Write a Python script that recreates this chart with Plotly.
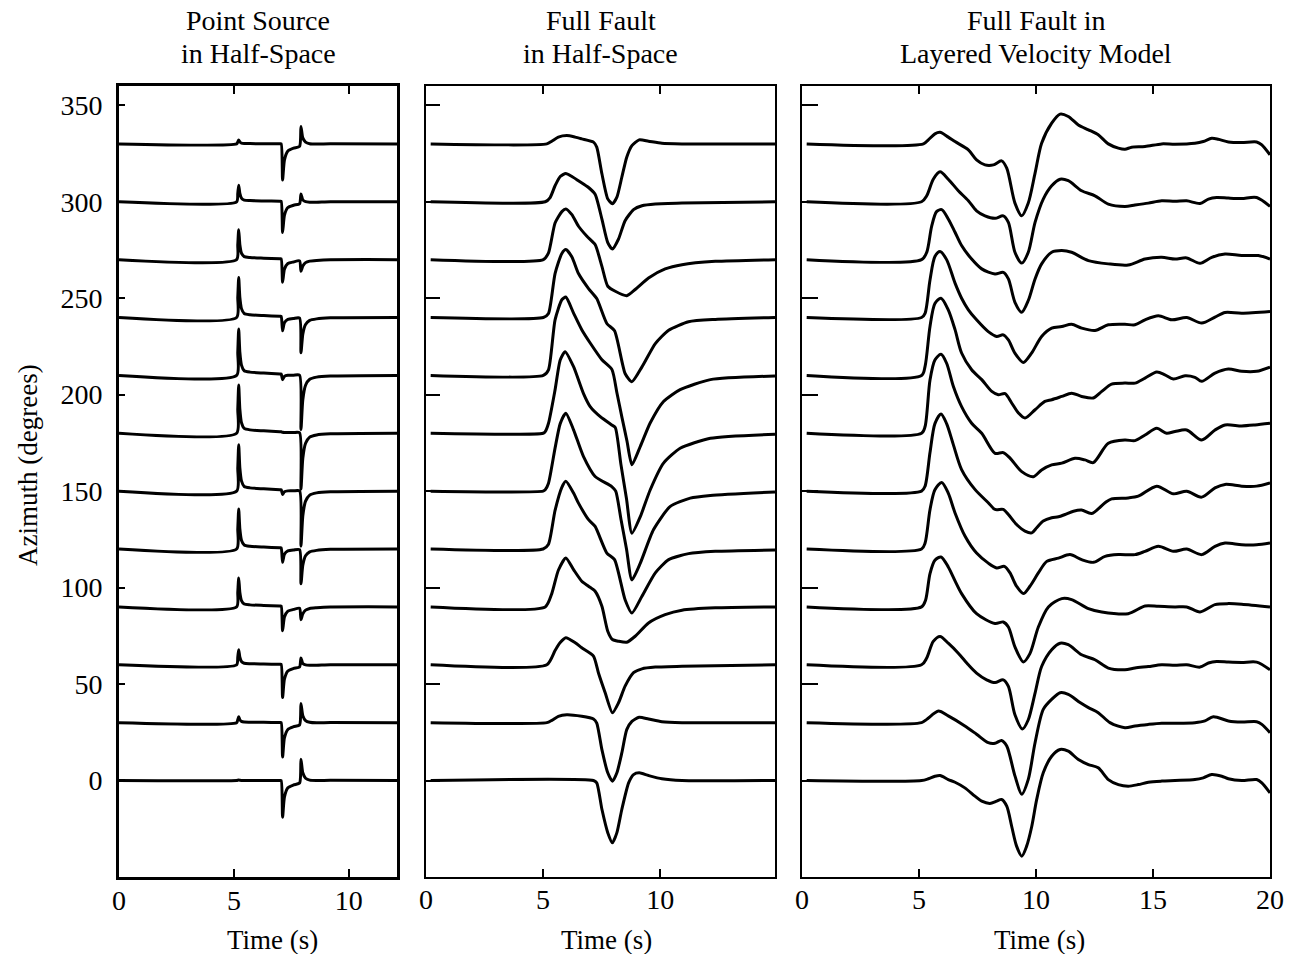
import plotly.graph_objects as go

# ---------------- data ----------------
azimuths = [0, 30, 60, 90, 120, 150, 180, 210, 240, 270, 300, 330]
ticks_az = [0, 50, 100, 150, 200, 250, 300, 350]
titles = [["Point Source", "in Half-Space"],
          ["Full Fault", "in Half-Space"],
          ["Full Fault in", "Layered Velocity Model"]]
x_ticks_1 = [0, 5, 10]
x_ticks_2 = [0, 5, 10]
x_ticks_3 = [0, 5, 10, 15, 20]

# Panel 1: point source in half-space (common time samples, amplitude in degrees of offset)
ps_time = [0, 5.12, 5.17, 5.21, 5.26, 5.33, 5.45, 5.7, 6.3, 7.0, 7.06, 7.12, 7.2, 7.35, 7.6, 7.86,
           7.92, 8.0, 8.12, 8.3, 8.6, 9.2, 12.1]
ps_000 = [0, 0, 0.15, 0.3, 0.15, 0.07, 0.03, 0.02, 0.02, 0.01, 0.01, -19, -8.6, -3.8, -2.3, -1.3,
          11, 4.0, 1.2, 0.2, 0, 0.1, 0]
ps_030 = [0, 0, 1.5, 3, 1.5, 0.66, 0.3, 0.21, 0.15, 0.09, 0.09, -17.8, -7.95, -3.5, -2.1, -1.2,
          9.9, 3.6, 1.1, 0.2, -0.1, 0.1, 0]
ps_060 = [0, 0, 3.9, 7.8, 3.9, 1.7, 0.8, 0.55, 0.4, 0.23, 0.23, -17, -7.5, -3.2, -1.9, -1.1,
          3.5, 0.7, -0.05, -0.26, -0.24, 0, 0]
ps_090 = [0, 0, 7.5, 15, 7.5, 3.3, 1.5, 1.05, 0.75, 0.45, 0.45, -12.4, -5.3, -2.2, -1.3, -0.7,
          -6.6, -3.6, -1.7, -0.8, -0.45, -0.07, 0]
ps_120 = [0, 0, 10.4, 20.7, 10.4, 4.6, 2.1, 1.45, 1.0, 0.6, 0.6, -6.9, -2.7, -1.0, -0.5, -0.3,
          -18, -8.45, -3.5, -1.5, -0.7, -0.18, 0]
ps_150 = [0, 0, 12, 24, 12, 5.3, 2.4, 1.7, 1.2, 0.7, 0.7, -1.7, -0.3, 0.14, 0.16, 0.12,
          -28.5, -12.9, -5.2, -2.05, -0.9, -0.3, 0]
ps_180 = [0, 0, 12.5, 25, 12.5, 5.5, 2.5, 1.75, 1.25, 0.75, 0.75, 0.5, 0.4, 0.45, 0.37, 0.25,
          -29, -13, -5.2, -2.0, -0.87, -0.3, 0]
ps_210 = [0, 0, 12, 24, 12, 5.3, 2.4, 1.7, 1.2, 0.7, 0.7, -2.2, -0.5, 0.04, 0.1, 0.1,
          -28, -12.7, -5.1, -2.0, -0.9, -0.3, 0]
ps_240 = [0, 0, 10.4, 20.7, 10.4, 4.6, 2.1, 1.45, 1.0, 0.6, 0.6, -6.9, -2.7, -1.0, -0.5, -0.3,
          -18.3, -8.6, -3.6, -1.5, -0.7, -0.18, 0]
ps_270 = [0, 0, 7.75, 15.5, 7.75, 3.4, 1.55, 1.1, 0.78, 0.47, 0.47, -11.7, -5.0, -2.0, -1.2, -0.66,
          -6, -3.3, -1.55, -0.77, -0.41, -0.06, 0]
ps_300 = [0, 0, 4.3, 8.6, 4.3, 1.9, 0.86, 0.6, 0.43, 0.26, 0.26, -15.9, -7.0, -3.0, -1.8, -1.0,
          4, 1.0, 0.1, -0.2, -0.2, 0.04, 0]
ps_330 = [0, 0, 1, 2, 1, 0.44, 0.2, 0.14, 0.1, 0.06, 0.06, -18.7, -8.4, -3.7, -2.2, -1.3,
          9, 3.1, 0.9, 0.07, -0.1, 0.09, 0]

# Panel 2: full fault in half-space, (time s, amplitude) pairs
ffhs_000 = [(0.2, 0), (7.15, 0), (7.29, -1.2), (7.51, -14.9), (7.76, -27), (7.96, -32.3), (8.15, -27),
            (8.36, -15), (8.65, -1.2), (8.86, 3.1), (9.10, 4.0), (9.50, 2.6), (10.07, 0.9), (10.93, 0),
            (14.9, 0)]
ffhs_030 = [(0.2, 0), (5.16, 0), (5.37, 1.2), (5.65, 3.3), (6.01, 4.1), (6.65, 3.3), (7.15, 1.9),
            (7.29, -0.2), (7.51, -14), (7.76, -26), (7.96, -30.4), (8.15, -26), (8.36, -15.7),
            (8.57, -3.6), (8.79, 0.7), (9.10, 2.8), (9.50, 1.9), (10.07, 0.5), (10.93, 0), (14.9, 0)]
ffhs_060 = [(0.2, 0), (5.16, 0), (5.51, 7.4), (5.73, 11.5), (5.97, 14.0), (6.37, 11.4), (6.65, 8.8),
            (7.15, 4.5), (7.36, -4.1), (7.65, -14.5), (7.96, -24.9), (8.22, -19.7), (8.50, -11.1),
            (8.86, -4.1), (9.22, -2.1), (9.79, -1.2), (10.93, -0.7), (14.9, 0)]
ffhs_090 = [(0.2, 0), (5.09, 0), (5.37, 6.9), (5.65, 19), (5.97, 25.4), (6.30, 19.3), (6.65, 13.3),
            (6.94, 10.7), (7.22, 8.1), (7.51, 0.3), (7.76, -12.6), (7.96, -16.9), (8.22, -17.8),
            (8.57, -18.3), (8.93, -15.2), (9.50, -8.3), (10.21, -4.0), (10.93, -1.7), (12.35, -0.5),
            (14.9, 0)]
ffhs_120 = [(0.2, 0), (5.0, 0), (5.23, 2.5), (5.51, 20), (5.80, 32), (5.97, 35.1), (6.30, 29),
            (6.51, 23.8), (6.94, 15.2), (7.22, 11.7), (7.72, -2.1), (8.05, -5.5), (8.50, -26.3),
            (8.79, -33.2), (9.22, -24.5), (9.79, -12.4), (10.36, -5.5), (11.21, -2.4), (12.35, -1.2),
            (14.9, -0.5)]
ffhs_150 = [(0.2, 0), (5.0, 0), (5.09, 0.7), (5.23, 4.1), (5.51, 22.3), (5.73, 35), (5.97, 40.4),
            (6.30, 31.8), (6.72, 18), (7.22, 7.6), (7.93, 2.4), (8.1, 0), (8.33, -15), (8.56, -30),
            (8.79, -46), (9.15, -37.3), (9.71, -20), (10.43, -7.9), (11.28, -3.6), (12.14, -2.2),
            (14.9, -0.4)]
ffhs_180 = [(0.2, 0), (5.0, 0), (5.09, 0.9), (5.23, 5.2), (5.51, 22.5), (5.73, 38), (5.94, 42.3),
            (6.30, 34.5), (6.72, 20.7), (7.01, 13.8), (7.44, 8.6), (7.93, 4.3), (8.08, 3.0),
            (8.32, -16), (8.56, -34), (8.79, -51.8), (9.15, -43.2), (9.57, -29.4), (10.14, -15.5),
            (10.85, -7.8), (12.14, -2.6), (14.9, -0.5)]
ffhs_210 = [(0.2, 0), (5.01, 0), (5.23, 2.9), (5.51, 28.8), (5.80, 39.2), (5.97, 40.6), (6.30, 32.3),
            (6.65, 23.7), (7.01, 16.8), (7.51, 8.1), (7.94, 3.0), (8.15, -9), (8.37, -22), (8.58, -34),
            (8.79, -46.3), (9.15, -36.8), (9.57, -24.7), (10.14, -13.5), (10.85, -7.4), (12.14, -2.2),
            (14.9, -0.3)]
ffhs_240 = [(0.2, 0), (5.01, 0), (5.23, 2.1), (5.51, 22.8), (5.80, 33.2), (5.97, 35.2), (6.23, 31.4),
            (6.51, 22.8), (6.94, 15), (7.29, 9.8), (7.72, -3.1), (8.05, -6.9), (8.50, -29),
            (8.79, -33.3), (9.22, -25.6), (9.79, -13.5), (10.36, -6.6), (11.21, -2.2), (12.35, -1.0),
            (14.9, 0)]
ffhs_270 = [(0.2, 0), (5.01, 0), (5.23, 3.5), (5.51, 19.0), (5.80, 24.9), (5.97, 26.3), (6.23, 23.3),
            (6.51, 17.3), (6.87, 12.1), (7.22, 7.8), (7.51, -3.5), (7.76, -13.8), (8.08, -16.4),
            (8.57, -18.7), (8.93, -15.5), (9.50, -9.5), (10.21, -4.8), (10.93, -2.6), (12.35, -0.9),
            (14.9, 0)]
ffhs_300 = [(0.2, 0), (5.09, 0), (5.30, 2.2), (5.51, 8.3), (5.73, 13.1), (5.97, 14.7), (6.23, 13.1),
            (6.51, 10.9), (6.94, 7.4), (7.22, 3.9), (7.51, -9), (7.76, -21.2), (7.96, -24.5),
            (8.22, -19.3), (8.50, -9.8), (8.86, -4.1), (9.22, -2.1), (9.79, -1.2), (10.93, -0.7),
            (14.9, 0)]
ffhs_330 = [(0.2, 0), (5.16, 0), (5.37, 1.4), (5.65, 3.5), (6.01, 4.3), (6.37, 3.5), (6.65, 2.6),
            (7.15, 0.9), (7.29, -1.7), (7.51, -15.5), (7.76, -28.5), (7.96, -31), (8.15, -27.6),
            (8.36, -17.3), (8.57, -6.9), (8.79, -0.9), (9.10, 2.1), (9.50, 1.4), (10.07, 0.3),
            (10.93, 0), (14.9, 0)]

# Panel 3: full fault in layered velocity model, (time s, amplitude) pairs
ffl_000 = [(0.2, 0), (5.11, 0), (5.40, 0.9), (5.68, 2.2), (5.90, 2.6), (6.25, 0.5), (6.54, -0.9),
           (6.96, -3.8), (7.39, -8.1), (7.68, -10.7), (8.03, -11.9), (8.32, -10.7), (8.53, -9.8),
           (8.75, -13.3), (8.96, -23.7), (9.17, -34), (9.39, -39.2), (9.60, -34), (9.82, -23.7),
           (10.03, -9.8), (10.31, 4.0), (10.67, 12.6), (11.03, 16.1), (11.38, 15.2), (11.81, 10.9),
           (12.24, 8.3), (12.66, 6.6), (13.09, 0.5), (13.52, -2.1), (13.94, -2.9), (14.37, -2.1),
           (14.80, -0.9), (15.37, -0.3), (15.94, 0), (16.79, 0.5), (17.15, 1.4), (17.51, 3.1),
           (17.94, 2.2), (18.22, 0.9), (18.79, 0), (19.43, 0.5), (19.65, -1.2), (20.0, -6.4)]
ffl_030 = [(0.2, 0), (5.11, 0), (5.33, 1.7), (5.83, 6.0), (6.25, 3.5), (6.96, -1.7), (7.46, -6.0),
           (7.96, -10.4), (8.25, -10.7), (8.53, -9.2), (8.75, -12.1), (9.10, -27.6), (9.39, -37.1),
           (9.67, -29.4), (9.96, -10.4), (10.31, 6.9), (10.67, 12.1), (11.03, 15.5), (11.38, 14.7),
           (11.88, 10.4), (12.24, 7.8), (12.66, 5.2), (13.16, 0), (13.80, -2.6), (14.23, -1.7),
           (14.80, -0.9), (15.37, -0.3), (15.94, -0.3), (16.79, 0), (17.22, 0.9), (17.58, 3.1),
           (18.22, 0.9), (18.79, 0.3), (19.43, 0.5), (19.65, -0.9), (20.0, -5.2)]
ffl_060 = [(0.2, 0), (5.11, 0), (5.33, 3.5), (5.61, 12.1), (5.90, 14.7), (6.25, 11.2), (6.68, 6.0),
           (7.11, 0), (7.46, -4.3), (7.89, -7.8), (8.25, -9.2), (8.60, -7.8), (8.82, -11.2),
           (9.10, -25.9), (9.42, -33.3), (9.67, -28.5), (9.96, -14.7), (10.24, -0.9), (10.67, 7.8),
           (11.03, 11.2), (11.38, 10.4), (11.95, 5.2), (12.52, 2.6), (13.09, -1.7), (13.80, -2.6),
           (14.23, -1.7), (14.80, -0.9), (15.37, 0), (15.94, -0.3), (16.44, 0), (17.01, -1.2),
           (17.37, 0.9), (17.72, 1.7), (18.22, 1.4), (18.79, 1.2), (19.43, 1.4), (20.0, -2.6)]
ffl_090 = [(0.2, 0), (5.11, 0), (5.28, 3.5), (5.47, 17.3), (5.68, 24.2), (5.94, 25.9), (6.25, 20.7),
           (6.54, 13.5), (6.82, 6.9), (7.46, -3.5), (8.25, -8.6), (8.60, -7.8), (8.82, -10.4),
           (9.10, -20.7), (9.46, -28.5), (9.74, -24.2), (10.10, -10.4), (10.53, 0), (11.10, 4.3),
           (11.52, 3.8), (12.24, -0.9), (12.81, -2.6), (13.94, -3.5), (14.66, 0.5), (15.23, 0.3),
           (15.94, 0), (16.44, 0), (17.01, -2.6), (17.65, 1.2), (18.22, 1.7), (18.79, 1.4), (20.0, 0)]
ffl_120 = [(0.2, 0), (5.11, 0), (5.26, 3.1), (5.47, 20.4), (5.68, 30.7), (5.97, 34.5), (6.25, 29),
           (6.54, 18.7), (6.97, 6.6), (7.46, -2.1), (7.96, -7.3), (8.32, -9.8), (8.65, -9.0),
           (8.89, -12.4), (9.17, -19.3), (9.46, -23.1), (9.74, -19.3), (10.10, -12.4), (10.46, -6.4),
           (10.96, -4.7), (11.45, -2.9), (11.95, -5.5), (12.45, -6.9), (12.95, -3.8), (13.52, -2.9),
           (14.23, -2.9), (14.66, -1.2), (15.23, 1.4), (15.87, -1.2), (16.44, 0), (17.08, -2.9),
           (17.65, 1.4), (18.08, 3.1), (18.79, 2.2), (19.43, 2.2), (20.0, 3.1)]
ffl_150 = [(0.2, 0), (5.11, 0), (5.26, 2.6), (5.47, 20), (5.68, 35), (5.94, 40), (6.18, 35),
           (6.47, 24), (6.82, 11.2), (7.39, 0.9), (7.96, -6), (8.25, -9.5), (8.60, -9.5), (8.82, -12.1),
           (9.17, -17.3), (9.53, -20.7), (9.82, -21.6), (10.03, -19), (10.31, -15.5), (10.67, -13.8),
           (10.96, -13.3), (11.24, -12.1), (11.60, -10.4), (11.95, -9.8), (12.38, -11.6), (12.95, -6),
           (13.23, -4), (13.94, -3.5), (14.37, -2.6), (15.16, 2.6), (15.87, -1.4), (16.44, 0),
           (17.08, -3.1), (17.65, 1.7), (18.08, 3.5), (18.79, 2.6), (19.43, 2.6), (20.0, 4.3)]
ffl_180 = [(0.2, 0), (5.11, 0), (5.26, 3.5), (5.47, 27.6), (5.68, 38), (5.94, 40.9), (6.18, 36.3),
           (6.47, 24.2), (6.82, 13.8), (7.25, 5.2), (7.68, 0), (8.25, -10.4), (8.60, -10), (8.89, -12.9),
           (9.39, -19.9), (9.89, -22.5), (10.24, -19), (10.67, -16.4), (11.10, -15.5), (11.67, -13),
           (12.09, -13.8), (12.45, -15.2), (13.09, -5.2), (13.80, -3.5), (14.23, -3.8), (14.66, -0.9),
           (15.16, 2.6), (15.58, 0), (15.94, 0.9), (16.44, 1.7), (17.08, -3.5), (17.65, 1.7),
           (18.08, 4.3), (18.79, 3.8), (19.36, 4.3), (20.0, 5.2)]
ffl_210 = [(0.2, 0), (5.11, 0), (5.26, 4.7), (5.47, 25.4), (5.68, 37.3), (5.94, 40), (6.25, 34),
           (6.54, 23.7), (6.82, 11.6), (7.25, 2.9), (7.68, -2.2), (8.11, -8.3), (8.39, -10),
           (8.68, -9.5), (8.96, -14.3), (9.25, -19.5), (9.53, -22.1), (9.96, -17.8), (10.38, -13.5),
           (10.67, -12.6), (11.10, -10.9), (11.52, -9.2), (11.95, -10.9), (12.45, -11.7), (12.81, -8.3),
           (13.23, -4.5), (13.80, -4.0), (14.23, -4.0), (14.66, -1.4), (15.16, 1.7), (15.51, 0.3),
           (15.87, -1.9), (16.37, -0.2), (16.79, -1.0), (17.08, -3.1), (17.65, 1.2), (18.22, 3.3),
           (18.79, 2.1), (19.43, 2.1), (20.0, 4.3)]
ffl_240 = [(0.2, 0), (5.11, 0), (5.26, 2.2), (5.47, 19.5), (5.68, 31.6), (5.90, 34.2), (6.18, 30),
           (6.54, 17.8), (6.82, 10), (7.11, 4.0), (7.46, -1.2), (7.96, -7.3), (8.32, -9.8), (8.60, -9.0),
           (8.82, -11.6), (9.10, -18.5), (9.46, -23.3), (9.81, -18.5), (10.24, -9.8), (10.67, -5.5),
           (11.10, -4.7), (11.52, -3.5), (11.95, -5.5), (12.52, -6.7), (13.09, -3.8), (13.80, -3.5),
           (14.23, -3.8), (14.66, -1.2), (15.23, 0.9), (15.80, -1.2), (16.44, 0), (17.08, -2.9),
           (17.65, 0.2), (18.08, 2.6), (18.79, 2.2), (20.0, 3.1)]
ffl_270 = [(0.2, 0), (5.11, 0), (5.33, 3.8), (5.54, 17.3), (5.75, 24.9), (5.97, 25.9), (6.25, 21.1),
           (6.54, 14.2), (6.82, 7.3), (7.25, 0.3), (7.68, -4.8), (8.25, -7.4), (8.60, -6.6), (8.82, -10),
           (9.10, -22.1), (9.39, -27.3), (9.67, -21.2), (9.96, -10), (10.24, -2.2), (10.67, 3.8),
           (11.10, 4.7), (11.52, 3.8), (12.24, -0.5), (13.09, -2.2), (13.94, -2.8), (14.66, 0.3),
           (15.37, 1.2), (15.94, 0.3), (16.44, 0.9), (17.01, -1.9), (17.51, 1.2), (18.08, 2.9),
           (18.79, 2.1), (19.50, 2.1), (20.0, 0.3)]
ffl_300 = [(0.2, 0), (5.11, 0), (5.33, 3.1), (5.61, 11.7), (5.90, 15.5), (6.25, 11.7), (6.68, 5.7),
           (7.11, 0.5), (7.46, -4.7), (7.82, -7.3), (8.25, -8.6), (8.60, -7.3), (8.82, -10.7),
           (9.10, -26.2), (9.39, -31.8), (9.67, -26.2), (9.96, -10.7), (10.31, 1.4), (10.67, 8.3),
           (11.03, 11.7), (11.38, 10.9), (11.95, 5.7), (12.52, 3.1), (13.09, -1.2), (13.80, -2.4),
           (14.23, -1.7), (14.80, -0.7), (15.37, 0.5), (15.94, 0.2), (16.44, 0.5), (17.01, -0.9),
           (17.37, 1.4), (17.72, 2.2), (18.22, 1.9), (18.79, 1.7), (19.43, 2.2), (20.0, -2.4)]
ffl_330 = [(0.2, 0), (5.19, 0), (5.40, 2.1), (5.68, 5.2), (5.90, 6.0), (6.25, 3.5), (6.54, 1.2),
           (7.11, -3.1), (7.46, -8.3), (7.82, -10.9), (8.18, -10.9), (8.53, -8.8), (8.75, -12.6),
           (9.10, -30.7), (9.39, -37.3), (9.67, -30.7), (9.96, -15.2), (10.24, 0.3), (10.67, 10.7),
           (11.03, 15.4), (11.38, 14.2), (11.81, 9.8), (12.24, 7.3), (12.66, 4.7), (13.09, 0),
           (13.52, -2.2), (13.80, -2.8), (14.09, -1.7), (14.66, -1.4), (15.37, 0), (15.94, -0.2),
           (16.79, 0.3), (17.15, 1.2), (17.51, 2.9), (17.79, 2.4), (18.22, 1.0), (18.79, 0.7),
           (19.43, 1.0), (19.65, -0.5), (20.0, -5.7)]

ps_traces = [ps_000, ps_030, ps_060, ps_090, ps_120, ps_150, ps_180, ps_210, ps_240, ps_270, ps_300, ps_330]
ffhs_traces = [ffhs_000, ffhs_030, ffhs_060, ffhs_090, ffhs_120, ffhs_150, ffhs_180, ffhs_210,
               ffhs_240, ffhs_270, ffhs_300, ffhs_330]
ffl_traces = [ffl_000, ffl_030, ffl_060, ffl_090, ffl_120, ffl_150, ffl_180, ffl_210, ffl_240,
              ffl_270, ffl_300, ffl_330]

# ---------------- figure ----------------
W, H = 1297, 954
FONT = "Liberation Serif"
FS_TICK = 28
FS_TITLE = 28
FS_AXT = 27
fig = go.Figure()

line = dict(color="black", width=3, shape="spline", smoothing=0.6)
for az, vals in zip(azimuths, ps_traces):
    fig.add_trace(go.Scatter(x=ps_time, y=[az + v for v in vals], mode="lines",
                             line=line, xaxis="x", yaxis="y", hoverinfo="skip"))
for az, pts in zip(azimuths, ffhs_traces):
    fig.add_trace(go.Scatter(x=[p[0] for p in pts], y=[az + p[1] for p in pts], mode="lines",
                             line=line, xaxis="x2", yaxis="y2", hoverinfo="skip"))
for az, pts in zip(azimuths, ffl_traces):
    fig.add_trace(go.Scatter(x=[p[0] for p in pts], y=[az + p[1] for p in pts], mode="lines",
                             line=dict(color="black", width=3, shape="spline", smoothing=0.8),
                             xaxis="x3", yaxis="y3", hoverinfo="skip"))

tickfont = dict(family=FONT, size=FS_TICK, color="black")
ydom = [1 - 877 / H, 1 - 86 / H]
panels = [(119, 397, [0, 12.1], x_ticks_1, 3, 6, 272),
          (426, 775, [0, 14.9], x_ticks_2, 2, 14, 606),
          (802, 1270, [0, 20], x_ticks_3, 2, 16, 1039)]
for i, (x0, x1, rng, tv, lw, yticklen, xlab) in enumerate(panels):
    sfx = "" if i == 0 else str(i + 1)
    fig.layout["xaxis" + sfx] = dict(
        domain=[x0 / W, x1 / W], range=rng, anchor="y" + sfx, tickvals=tv,
        ticktext=[str(v) for v in tv], showline=True, linecolor="black", linewidth=lw,
        mirror="ticks", ticks="inside", ticklen=8, tickwidth=1.5, tickcolor="black",
        showgrid=False, zeroline=False, tickfont=tickfont, ticklabelstandoff=-4,
        automargin=False, fixedrange=True)
    fig.layout["yaxis" + sfx] = dict(
        domain=ydom, range=[-50, 360], anchor="x" + sfx, tickvals=ticks_az,
        ticktext=[str(v) for v in ticks_az], showticklabels=(i == 0),
        showline=True, linecolor="black", linewidth=lw, mirror=True, ticks="inside",
        ticklen=yticklen, tickwidth=1.5, tickcolor="black", showgrid=False, zeroline=False,
        tickfont=tickfont, ticklabelstandoff=8, automargin=False, fixedrange=True)
    cx = (x0 + x1) / 2
    fig.add_annotation(text=titles[i][0], x=cx / W, y=1 - 21 / H, xref="paper", yref="paper",
                       showarrow=False, xanchor="center", yanchor="middle",
                       font=dict(family=FONT, size=FS_TITLE, color="black"))
    fig.add_annotation(text=titles[i][1], x=cx / W, y=1 - 53 / H, xref="paper", yref="paper",
                       showarrow=False, xanchor="center", yanchor="middle",
                       font=dict(family=FONT, size=FS_TITLE, color="black"))
    fig.add_annotation(text="Time (s)", x=xlab / W, y=1 - 940 / H, xref="paper", yref="paper",
                       showarrow=False, xanchor="center", yanchor="middle",
                       font=dict(family=FONT, size=FS_AXT, color="black"))

fig.add_annotation(text="Azimuth (degrees)", x=28 / W, y=1 - 465 / H, xref="paper", yref="paper",
                   showarrow=False, xanchor="center", yanchor="middle", textangle=-90,
                   font=dict(family=FONT, size=FS_AXT, color="black"))

fig.update_layout(width=W, height=H, margin=dict(l=0, r=0, t=0, b=0, autoexpand=False),
                  showlegend=False, plot_bgcolor="white", paper_bgcolor="white")

fig.write_html("out.html", config={"displayModeBar": False, "responsive": False},
               post_script="document.body.style.margin='0';document.body.style.overflow='hidden';")
